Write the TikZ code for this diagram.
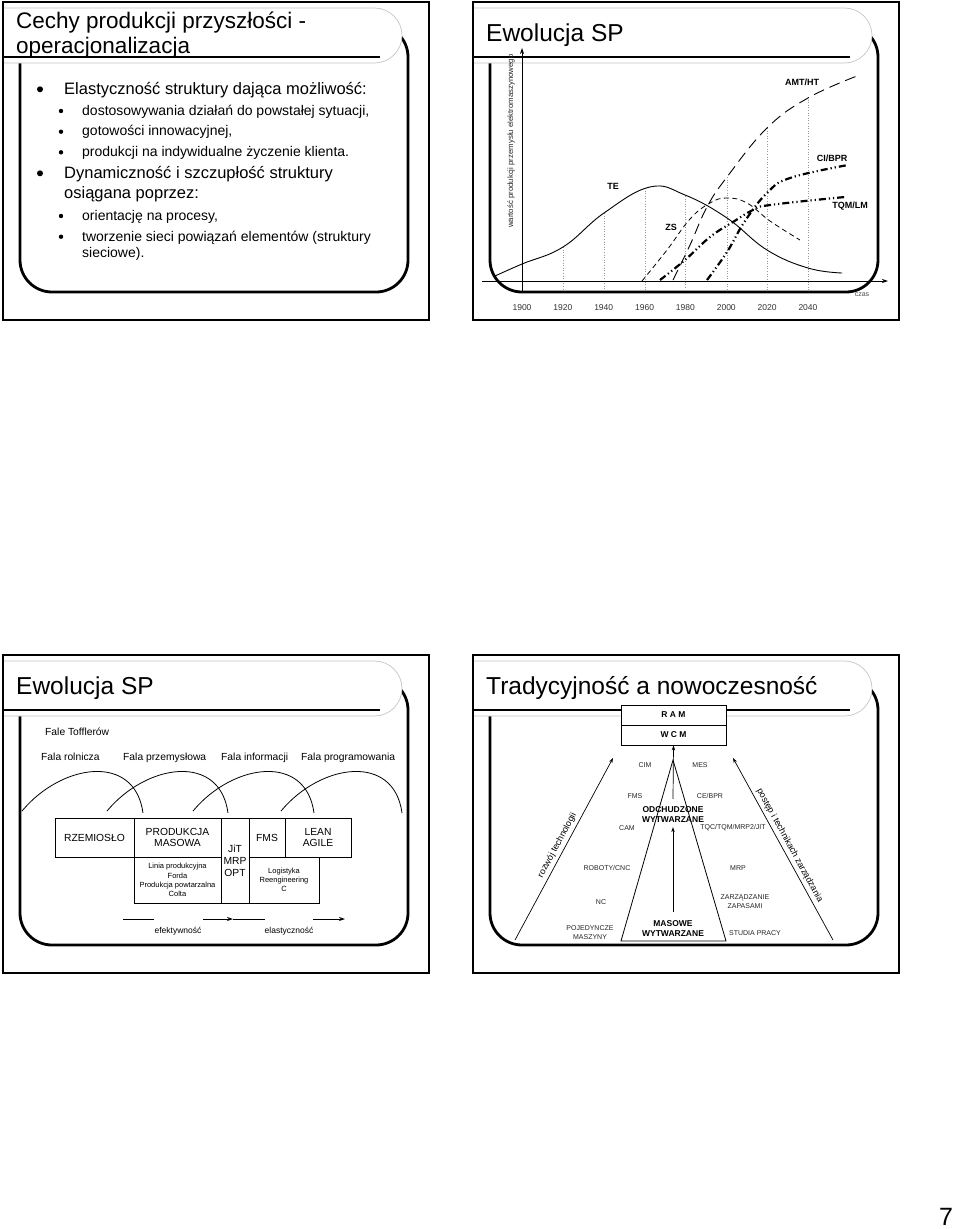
\documentclass[tikz,border=0pt]{standalone}
\usepackage{fontspec}
\setmainfont{Liberation Sans}
\usetikzlibrary{arrows.meta}

\tikzset{
  frameline/.style={line width=1.3pt},
  panel/.style={line width=2.8pt, rounded corners=32pt},
  pill/.style={draw=gray!45, fill=white, line width=0.7pt, rounded corners=27.5pt},
  titlerule/.style={line width=1.2pt},
  slidetitle/.style={anchor=base west, inner sep=0pt, font=\fontsize{24.5}{28}\selectfont},
  longtitle/.style={slidetitle, font=\fontsize{22.5}{25}\selectfont},
  mainpt/.style={anchor=base west, inner sep=0pt, font=\fontsize{16.5}{19}\selectfont},
  subpt/.style={anchor=base west, inner sep=0pt, font=\fontsize{14}{16}\selectfont},
  axis/.style={line width=0.8pt, -{Stealth[length=6pt,width=4pt]}},
  guide/.style={gray!80, line width=0.6pt, dotted},
  yearlab/.style={inner sep=0pt, text=black!80, font=\fontsize{8.5}{10}\selectfont},
  curvelab/.style={inner sep=0pt, font=\bfseries\fontsize{9}{10}\selectfont},
  te/.style={line width=0.9pt},
  zs/.style={line width=0.8pt, dash pattern=on 5pt off 3.5pt},
  amt/.style={line width=0.9pt, dash pattern=on 11pt off 6pt},
  cibpr/.style={line width=2.2pt, dash pattern=on 7pt off 3pt on 1.2pt off 3pt on 1.2pt off 3pt},
  tqm/.style={cibpr},
  wave/.style={line width=0.8pt},
  wavelab/.style={anchor=base west, inner sep=0pt, font=\fontsize{10.3}{12}\selectfont},
  box/.style={draw, line width=0.8pt, inner sep=0pt, align=center, font=\fontsize{10.3}{11.7}\selectfont},
  notebox/.style={box, font=\fontsize{7.5}{9.3}\selectfont},
  flow/.style={line width=0.8pt},
  flowarr/.style={flow, -{Stealth[length=6pt,width=4pt]}},
  flowlab/.style={inner sep=0pt, font=\fontsize{8.5}{10}\selectfont},
  levelbox/.style={draw, fill=white, line width=0.8pt, minimum width=105pt, minimum height=20pt, inner sep=0pt, font=\bfseries\fontsize{8.5}{10}\selectfont},
  biglab/.style={align=center, inner sep=0pt, font=\bfseries\fontsize{8.5}{10}\selectfont},
  minilab/.style={align=center, inner sep=0pt, text=black!85, font=\fontsize{7}{9}\selectfont},
  arr/.style={line width=0.7pt, -{Stealth[length=5pt,width=3.5pt]}},
  sidelab/.style={inner sep=3pt, font=\fontsize{9}{10}\selectfont}
}

\begin{document}
\begin{tikzpicture}[x=1pt, y=-1pt]
\useasboundingbox (0,0) rectangle (960,1229);
\fill[white] (0,0) rectangle (960,1229);

% the four slide frames
\foreach \ox/\oy in {0/0, 470/0, 0/653, 470/653}{
  \begin{scope}[shift={(\ox,\oy)}]
    \draw[panel] (20,25) rectangle (408,292);
    \path[pill] (3,8) -- (402,8) -- (402,63) -- (3,63);
    \draw[titlerule] (3,57) -- (380,57);
    \draw[frameline] (3,2) rectangle (429,320);
  \end{scope}
}

% slide 1
\begin{scope}
\node[longtitle] (t1a) at (16,28) {Cechy produkcji przyszłości -};
\node[longtitle] (t1b) at (16,53) {operacjonalizacja};
\fill (40,89.3) circle (3pt) (40,173.3) circle (3pt);
\foreach \by in {111,131.7,152.3,216,236.7} \fill (61,\by) circle (2.2pt);
\node[mainpt] (elast) at (64,94) {Elastyczność struktury dająca możliwość:};
\node[subpt] (elasta) at (82,115) {dostosowywania działań do powstałej sytuacji,};
\node[subpt] (elastb) at (82,135.5) {gotowości innowacyjnej,};
\node[subpt] (elastc) at (82,156) {produkcji na indywidualne życzenie klienta.};
\node[mainpt] (dyn) at (64,178) {Dynamiczność i szczupłość struktury};
\node[mainpt] (dynx) at (64,198) {osiągana poprzez:};
\node[subpt] (dyna) at (82,220) {orientację na procesy,};
\node[subpt] (dynb) at (82,241) {tworzenie sieci powiązań elementów (struktury};
\node[subpt] (dynbx) at (82,257) {sieciowe).};
\end{scope}

% slide 2
\begin{scope}[shift={(470,0)}]
\node[slidetitle] (t2) at (16,41) {Ewolucja SP};
\foreach \gx/\gy in {93/247,134/213,175/188,215/196,257/177,297/128,338/97}
  \draw[guide] (\gx,\gy) -- (\gx,290);
\coordinate (xstart) at (12,281);
\coordinate (xend) at (418,281);
\coordinate (ystart) at (52,293);
\coordinate (yend) at (52,48);
\draw[axis] (xstart) -- (xend);
\draw[axis] (ystart) -- (yend);
\draw[te] plot[smooth, tension=0.7] coordinates {(25,276) (52,264) (93,247) (134,213) (180,187) (215,195) (257,218) (297,250) (338,268) (372,273)};
\draw[zs] plot[smooth, tension=0.7] coordinates {(172,281) (197,250) (220,219) (240,203) (257,198) (277,203) (300,221) (330,240)};
\draw[amt] plot[smooth, tension=0.7] coordinates {(203,280) (220,245) (237,207) (257,177) (297,128) (338,98) (387,76)};
\draw[cibpr] plot[smooth, tension=0.7] coordinates {(237,280) (257,252) (275,221) (297,193) (320,178) (378,165)};
\draw[tqm] plot[smooth, tension=0.7] coordinates {(190,280) (215,260) (240,237) (263,222) (283,210) (300,205) (375,197)};
\node[curvelab] (te) at (143,186) {TE};
\node[curvelab] (zs) at (201,227) {ZS};
\node[curvelab] (amt) at (332,82) {AMT/HT};
\node[curvelab] (ci) at (362,158) {CI/BPR};
\node[curvelab] (tqm) at (380,206) {TQM/LM};
\node[inner sep=0pt, rotate=90, anchor=base west, text=black!85, font=\fontsize{7.8}{9}\selectfont] (ylab) at (43,228) {wartość produkcji przemysłu elektromaszynowego};
\foreach \yr [count=\i from 0] in {1900,1920,...,2040}
  \node[yearlab] (yr\yr) at ({52+40.85*\i},308) {\yr};
\node[inner sep=0pt, text=black!70, font=\fontsize{7}{8}\selectfont] (czas) at (392,295) {czas};
\end{scope}

% slide 3
\begin{scope}[shift={(0,653)}]
\node[slidetitle] (t3) at (16,41) {Ewolucja SP};
\node[wavelab] (toff) at (45,82) {Fale Tofflerów};
\node[wavelab] (wave1) at (41,107) {Fala rolnicza};
\node[wavelab] (wave2) at (123,107) {Fala przemysłowa};
\node[wavelab] (wave3) at (221,107) {Fala informacji};
\node[wavelab] (wave4) at (301,107) {Fala programowania};
\foreach \s in {22,107,193,281}
  \draw[wave] (\s,158) .. controls +(40,-48) and +(-8,-60) .. ({\s+121},160);
\node[box, minimum width=79pt, minimum height=39pt] (rzem) at (94.5,184.5) {RZEMIOSŁO};
\node[box, minimum width=87pt, minimum height=39pt] (prod) at (177.5,184.5) {PRODUKCJA\\MASOWA};
\node[box, minimum width=28pt, minimum height=85pt, font=\fontsize{10.3}{12}\selectfont] (jit) at (235,207.5) {JiT\\MRP\\OPT};
\node[box, minimum width=36pt, minimum height=39pt] (fms) at (267,184.5) {FMS};
\node[box, minimum width=66pt, minimum height=39pt] (lean) at (318,184.5) {LEAN\\AGILE};
\node[notebox, minimum width=87pt, minimum height=46pt] (linia) at (177.5,227) {Linia produkcyjna\\Forda\\Produkcja powtarzalna\\Colta};
\node[notebox, minimum width=70pt, minimum height=46pt] (logi) at (284,227) {Logistyka\\Reengineering\\C};
\coordinate (f1a) at (123,266);
\coordinate (f1b) at (154,266);
\coordinate (f1c) at (203,266);
\coordinate (f1d) at (233,266);
\coordinate (f2b) at (265,266);
\coordinate (f2c) at (313,266);
\coordinate (f2d) at (345,266);
\draw[flow] (f1a) -- (f1b);
\draw[flowarr] (f1c) -- (f1d);
\draw[flow] (f1d) -- (f2b);
\draw[flowarr] (f2c) -- (f2d);
\node[flowlab] (efek) at (178,278) {efektywność};
\node[flowlab] (elas) at (289,278) {elastyczność};
\end{scope}

% slide 4
\begin{scope}[shift={(470,653)}]
\node[slidetitle] (t4) at (16,41) {Tradycyjność a nowoczesność};
\node[levelbox] (ram) at (203.5,62) {R A M};
\node[levelbox] (wcm) at (203.5,82) {W C M};
\coordinate (apex) at (203,107);
\coordinate (basel) at (151,288);
\coordinate (baser) at (256,288);
\draw[line width=0.8pt] (basel) -- (apex) -- (baser) -- cycle;
\node[biglab] (lean4) at (203,162) {ODCHUDZONE\\WYTWARZANE};
\node[biglab] (mass) at (203,275.3) {MASOWE\\WYTWARZANE};
\draw[arr] ([yshift=8pt]lean4.north) -- (wcm.south);
\draw[arr] ([yshift=8pt]mass.north) -- ([yshift=-4pt]lean4.south);
\coordinate (techs) at (45,287);
\coordinate (teche) at (143,105);
\coordinate (mgmts) at (363,287);
\coordinate (mgmte) at (263,105);
\draw[arr] (techs) -- node[sidelab, sloped, above] (techlab) {rozwój technologii} (teche);
\draw[arr] (mgmts) -- node[sidelab, sloped, above] (mgmtlab) {postęp i technikach zarządzania} (mgmte);
\node[minilab] (cim) at (175,112) {CIM};
\node[minilab] (mes) at (230,112) {MES};
\node[minilab] (fms4) at (165,143) {FMS};
\node[minilab] (cebpr) at (240,143) {CE/BPR};
\node[minilab] (cam) at (157,175) {CAM};
\node[minilab] (tqc) at (263,175) {TQC/TQM/MRP2/JIT};
\node[minilab] (robot) at (137,215) {ROBOTY/CNC};
\node[minilab] (mrp) at (268,215) {MRP};
\node[minilab] (nc) at (131,249) {NC};
\node[minilab] (zapas) at (275,249) {ZARZĄDZANIE\\ZAPASAMI};
\node[minilab] (single) at (120,280) {POJEDYNCZE\\MASZYNY};
\node[minilab] (study) at (285,280) {STUDIA PRACY};
\end{scope}

\node[inner sep=0pt, font=\fontsize{25}{28}\selectfont] (page) at (946,1217) {7};
\end{tikzpicture}
\end{document}
